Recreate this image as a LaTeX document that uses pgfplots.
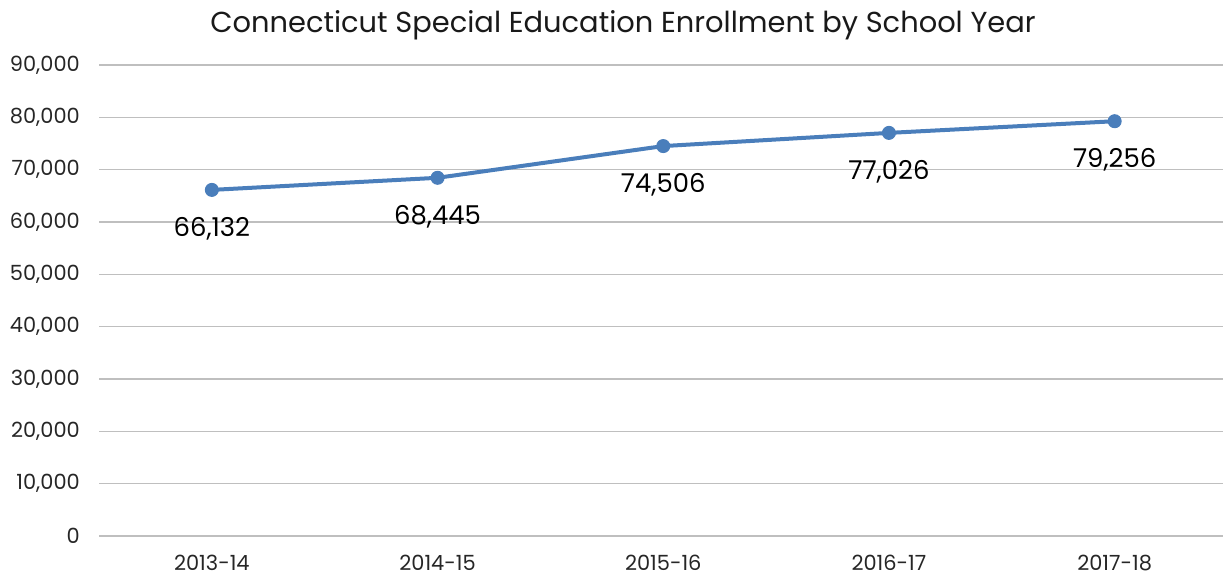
\documentclass[border=0pt]{standalone}
\usepackage{fontspec}
\setmainfont{Poppins}
\usepackage{pgfplots}
\pgfplotsset{compat=1.18}
\definecolor{lineblue}{HTML}{4A7EBB}
\definecolor{gridgray}{HTML}{BFBFBF}

\begin{document}
\begin{tikzpicture}[x=1bp,y=1bp]
\useasboundingbox (0,0) rectangle (1223,577);
\begin{axis}[
    at={(99bp,41bp)}, anchor=south west,
    scale only axis, width=1124bp, height=471bp,
    xmin=-0.5, xmax=4.48,
    ymin=0, ymax=90000,
    xtick={0,1,2,3,4},
    xticklabels={2013-14,2014-15,2015-16,2016-17,2017-18},
    ytick={0,10000,...,90000},
    scaled y ticks=false,
    /pgf/number format/assume math mode=true,
    yticklabel style={/pgf/number format/.cd,fixed,precision=0,1000 sep={,},/tikz/.cd,
        anchor=east, inner sep=0pt, xshift=-19bp, font=\fontsize{21}{24}\selectfont, text=black!85},
    xticklabel style={anchor=north, inner sep=0pt, yshift=-19bp,
        font=\fontsize{21}{24}\selectfont, text=black!85},
    axis line style={draw=none},
    tick style={draw=none},
    ymajorgrids,
    grid style={gridgray, line width=1.5bp},
    clip=false,
]
\addplot[lineblue, line width=4bp, mark=*, mark size=6.5bp, mark options={line width=1bp},
    nodes near coords={\pgfmathprintnumber[fixed,precision=0,1000 sep={,}]{\pgfplotspointmeta}},
    every node near coord/.append style={anchor=north, inner sep=0pt, yshift=-27bp,
        font=\fontsize{26}{30}\selectfont, text=black}]
    coordinates {(0,66132) (1,68445) (2,74506) (3,77026) (4,79256)};
\end{axis}
\node[font=\fontsize{29}{34}\selectfont, text=black!90] at (623,552) {Connecticut Special Education Enrollment by School Year};
\end{tikzpicture}
\end{document}
